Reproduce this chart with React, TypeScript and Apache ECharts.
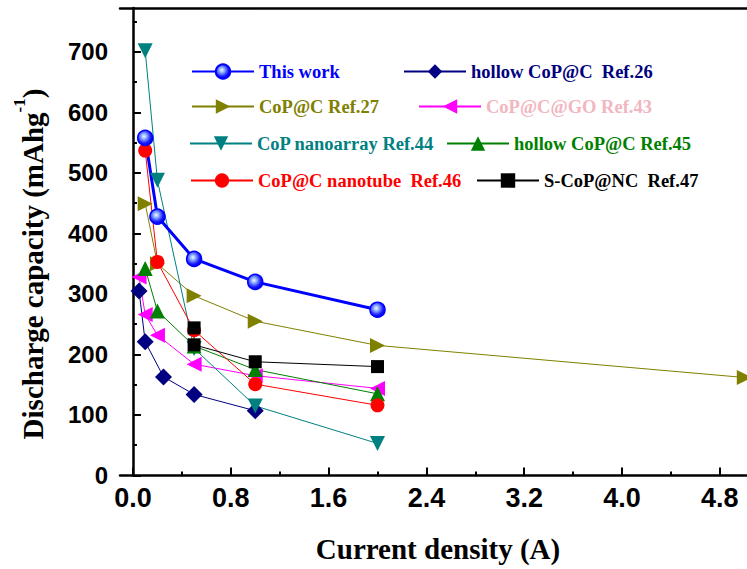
import React, { useEffect, useRef } from "react";
import * as echarts from "echarts";

// ---- data (x: current density in A, y: discharge capacity in mAh/g) ----
const thisWork: number[][] = [[0.1, 558], [0.2, 428], [0.5, 358], [1.0, 320], [2.0, 274]];
const ref26: number[][] = [[0.05, 305], [0.1, 221], [0.25, 163], [0.5, 134], [1.0, 107]];
const ref27: number[][] = [[0.1, 449], [0.2, 350], [0.5, 297], [1.0, 255], [2.0, 215], [5.0, 162]];
const ref43: number[][] = [[0.05, 328], [0.1, 266], [0.2, 232], [0.5, 184], [1.0, 165], [2.0, 144]];
const ref44: number[][] = [[0.1, 702], [0.2, 488], [0.5, 210], [1.0, 115], [2.0, 53]];
const ref45: number[][] = [[0.1, 342], [0.2, 272], [0.5, 214], [1.0, 175], [2.0, 135]];
const ref46: number[][] = [[0.1, 537], [0.2, 353], [0.5, 240], [1.0, 151], [2.0, 116]];
const ref47: number[][] = [[0.5, 244], [0.5, 216], [1.0, 188], [2.0, 180]];

const seriesNames = [
  "This work",
  "hollow CoP@C  Ref.26",
  "CoP@C Ref.27",
  "CoP@C@GO Ref.43",
  "CoP nanoarray Ref.44",
  "hollow CoP@C Ref.45",
  "CoP@C nanotube  Ref.46",
  "S-CoP@NC  Ref.47",
];

const xTickLabels = [0, 0.8, 1.6, 2.4, 3.2, 4.0, 4.8];
const xMinorTicks = [0.4, 1.2, 2.0, 2.8, 3.6, 4.4];
const yTickLabels = [0, 100, 200, 300, 400, 500, 600, 700];
const yMinorTicks = [50, 150, 250, 350, 450, 550, 650, 750];

const SERIF = "Liberation Serif";
const SANS = "Liberation Sans";

export default function App() {
  const ref = useRef<HTMLDivElement>(null);

  useEffect(() => {
    if (!ref.current) return;
    const chart = echarts.init(ref.current, undefined, { renderer: "svg" });

    const blueGrad = new echarts.graphic.RadialGradient(0.42, 0.4, 0.6, [
      { offset: 0, color: "#f4f8ff" },
      { offset: 0.3, color: "#8fb0ff" },
      { offset: 0.75, color: "#1a1aff" },
      { offset: 1, color: "#0000ee" },
    ]);

    const mk = (
      name: string,
      data: number[][],
      color: string,
      symbol: string,
      size: number,
      rotate: number,
      width: number,
      extra: any = {}
    ) => ({
      type: "line",
      name,
      data,
      xAxisIndex: 0,
      yAxisIndex: 0,
      symbol,
      symbolSize: size,
      symbolRotate: rotate,
      showAllSymbol: true,
      lineStyle: { color, width },
      itemStyle: { color, borderWidth: 0 },
      emphasis: { disabled: true },
      ...extra,
    });

    const series = [
      mk(seriesNames[1], ref26, "#000080", "diamond", 17, 0, 1),
      mk(seriesNames[2], ref27, "#808000", "triangle", 15, -90, 1),
      mk(seriesNames[3], ref43, "#ff00ff", "triangle", 15, 90, 1),
      mk(seriesNames[4], ref44, "#008080", "triangle", 15, 180, 1),
      mk(seriesNames[5], ref45, "#008000", "triangle", 15, 0, 1),
      mk(seriesNames[6], ref46, "#ff0000", "circle", 14, 0, 1),
      mk(seriesNames[7], ref47, "#000000", "rect", 13, 0, 1),
      mk(seriesNames[0], thisWork, "#0000ff", "circle", 15, 0, 3, {
        itemStyle: { color: blueGrad, borderColor: "#0000ff", borderWidth: 1.5 },
        z: 3,
      }),
    ];

    // text start x of each legend entry and row centre
    const legendPos: { name: string; text: number; top: number; color: string }[] = [
      { name: seriesNames[0], text: 258, top: 71, color: "#0000ff" },
      { name: seriesNames[1], text: 470, top: 71, color: "#000080" },
      { name: seriesNames[2], text: 258, top: 106, color: "#808000" },
      { name: seriesNames[3], text: 485, top: 106, color: "#f2b6c0" },
      { name: seriesNames[4], text: 256, top: 143, color: "#008080" },
      { name: seriesNames[5], text: 513, top: 143, color: "#008000" },
      { name: seriesNames[6], text: 257, top: 180, color: "#ff0000" },
      { name: seriesNames[7], text: 543, top: 180, color: "#000000" },
    ];

    const legends = legendPos.map((l) => ({
      show: true,
      data: [l.name],
      left: l.text - 67,
      top: l.top - 9,
      padding: 0,
      itemWidth: 62,
      itemHeight: 18,
      selectedMode: false,
      textStyle: {
        color: l.color,
        fontFamily: SERIF,
        fontWeight: "bold",
        fontSize: 18.5,
      },
    }));

    const axisLine = { show: true, lineStyle: { color: "#000", width: 2.5 } };

    chart.setOption({
      animation: false,
      backgroundColor: "#ffffff",
      grid: { left: 120, right: 0, top: 8, bottom: 93.5, containLabel: false },
      legend: legends,
      xAxis: [
        {
          type: "value",
          min: -0.106,
          max: 5.022,
          position: "bottom",
          axisLine,
          splitLine: { show: false },
          axisTick: {
            show: true,
            inside: true,
            length: 8,
            customValues: xTickLabels,
            lineStyle: { color: "#000", width: 2 },
          },
          axisLabel: {
            show: true,
            customValues: xTickLabels,
            margin: 9,
            formatter: (v: number) => v.toFixed(1),
            color: "#000",
            fontFamily: SANS,
            fontWeight: "bold",
            fontSize: 27,
          },
        },
        {
          type: "value",
          min: -0.106,
          max: 5.022,
          position: "bottom",
          axisLine: { show: false },
          splitLine: { show: false },
          axisTick: {
            show: true,
            inside: true,
            length: 4,
            customValues: xMinorTicks,
            lineStyle: { color: "#000", width: 2 },
          },
          axisLabel: { show: false },
        },
        {
          type: "value",
          min: -0.106,
          max: 5.022,
          position: "top",
          axisLine,
          splitLine: { show: false },
          axisTick: { show: false },
          axisLabel: { show: false },
        },
      ],
      yAxis: [
        {
          type: "value",
          min: 0,
          max: 772.7,
          position: "left",
          axisLine,
          splitLine: { show: false },
          axisTick: {
            show: true,
            inside: true,
            length: 8,
            customValues: yTickLabels,
            lineStyle: { color: "#000", width: 2 },
          },
          axisLabel: {
            show: true,
            customValues: yTickLabels,
            margin: 12,
            color: "#000",
            fontFamily: SANS,
            fontWeight: "bold",
            fontSize: 24,
          },
        },
        {
          type: "value",
          min: 0,
          max: 772.7,
          position: "left",
          axisLine: { show: false },
          splitLine: { show: false },
          axisTick: {
            show: true,
            inside: true,
            length: 4,
            customValues: yMinorTicks,
            lineStyle: { color: "#000", width: 2 },
          },
          axisLabel: { show: false },
        },
      ],
      series,
      graphic: [
        {
          type: "text",
          x: 33,
          y: 264,
          rotation: Math.PI / 2,
          style: {
            text: "{a|Discharge capacity (mAhg}{b|-1}{a|)}",
            align: "center",
            verticalAlign: "middle",
            rich: {
              a: {
                fontFamily: SERIF,
                fontWeight: "bold",
                fontSize: 29,
                lineHeight: 44,
                fill: "#000",
              },
              b: {
                fontFamily: SERIF,
                fontWeight: "bold",
                fontSize: 17,
                lineHeight: 17,
                verticalAlign: "top",
                fill: "#000",
              },
            },
          },
        },
        {
          type: "text",
          x: 438,
          y: 549,
          style: {
            text: "Current density (A)",
            align: "center",
            verticalAlign: "middle",
            fontFamily: SERIF,
            fontWeight: "bold",
            fontSize: 29,
            fill: "#000",
          },
        },
      ],
    });

    return () => chart.dispose();
  }, []);

  return (
    <div
      ref={ref}
      style={{ position: "fixed", left: 0, top: 0, width: 747, height: 569, background: "#fff" }}
    />
  );
}
